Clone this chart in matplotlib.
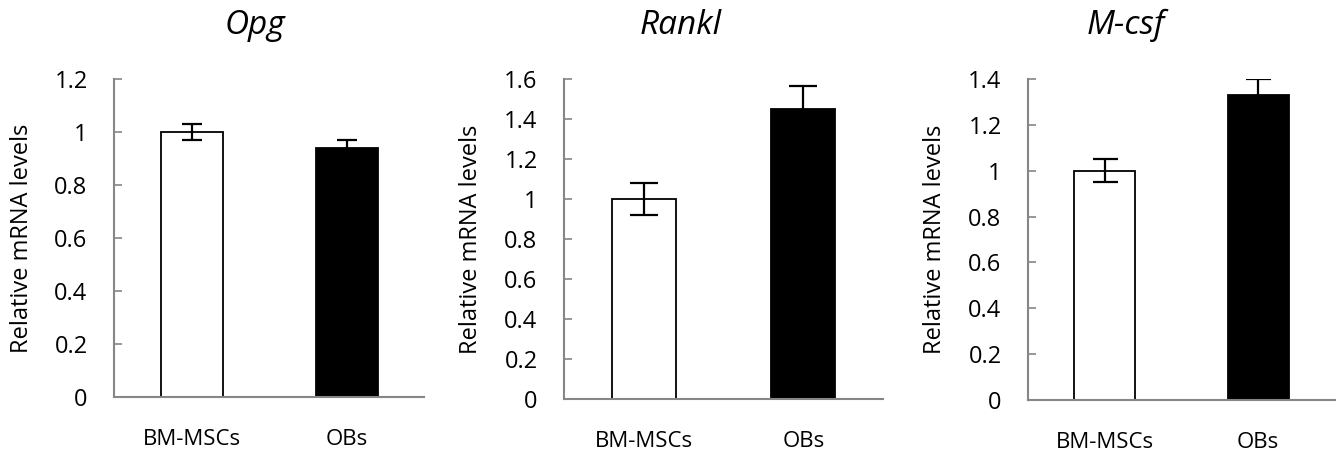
import matplotlib
matplotlib.use('Agg')
from matplotlib import pyplot as plt

plt.rcParams['font.family'] = ['Open Sans', 'DejaVu Sans']

groups = ['BM-MSCs', 'OBs']
genes = ['Opg', 'Rankl', 'M-csf']
opg_mean = [1.00, 0.94]
opg_err = [0.03, 0.03]
rankl_mean = [1.00, 1.45]
rankl_err = [0.08, 0.115]
mcsf_mean = [1.00, 1.33]
mcsf_err = [0.05, 0.07]

means = [opg_mean, rankl_mean, mcsf_mean]
errs = [opg_err, rankl_err, mcsf_err]
ymax = [1.2, 1.6, 1.4]
caps = [7, 10, 9]

# axes boxes in pixels (left, right, top, bottom) of a 1344x461 canvas
W, H = 1344, 461
boxes = [(114, 424, 79, 397), (564, 883, 79, 399), (1028, 1335, 79, 400)]
title_x = [255, 681, 1126]
ylabel_x = [22, 471, 935]

fig = plt.figure(figsize=(W / 100, H / 100), dpi=100)
grey = '#868686'

for i, (x0, x1, yt, yb) in enumerate(boxes):
    ax = fig.add_axes([x0 / W, 1 - yb / H, (x1 - x0) / W, (yb - yt) / H])
    ax.bar(range(2), means[i], width=0.4, color=['white', 'black'],
           edgecolor='black', linewidth=1.3, zorder=2)
    ax.errorbar(range(2), means[i], yerr=errs[i], fmt='none', ecolor='black',
                elinewidth=1.6, capsize=caps[i], capthick=1.6, zorder=3)
    ax.set_xlim(-0.5, 1.5)
    ax.set_ylim(0, ymax[i])
    ax.set_yticks([round(0.2 * k, 1) for k in range(int(round(ymax[i] / 0.2)) + 1)])
    ax.set_yticklabels([('%g' % v) for v in ax.get_yticks()])
    ax.set_xticks(range(2))
    ax.set_xticklabels(groups)
    for s in ['top', 'right']:
        ax.spines[s].set_visible(False)
    for s in ['left', 'bottom']:
        ax.spines[s].set_color(grey)
        ax.spines[s].set_linewidth(1.5)
    ax.tick_params(axis='y', direction='in', length=6, width=1.2, color=grey,
                   labelsize=17, pad=19)
    ax.tick_params(axis='x', length=0, labelsize=16, pad=23)
    fig.text(ylabel_x[i] / W, 1 - (yt + yb) / 2 / H, 'Relative mRNA levels',
             rotation=90, ha='center', va='center', fontsize=17)
    fig.text(title_x[i] / W, 1 - 34 / H, genes[i], ha='center', va='baseline',
             fontsize=24, style='italic')

fig.savefig('out.png', dpi=100)
